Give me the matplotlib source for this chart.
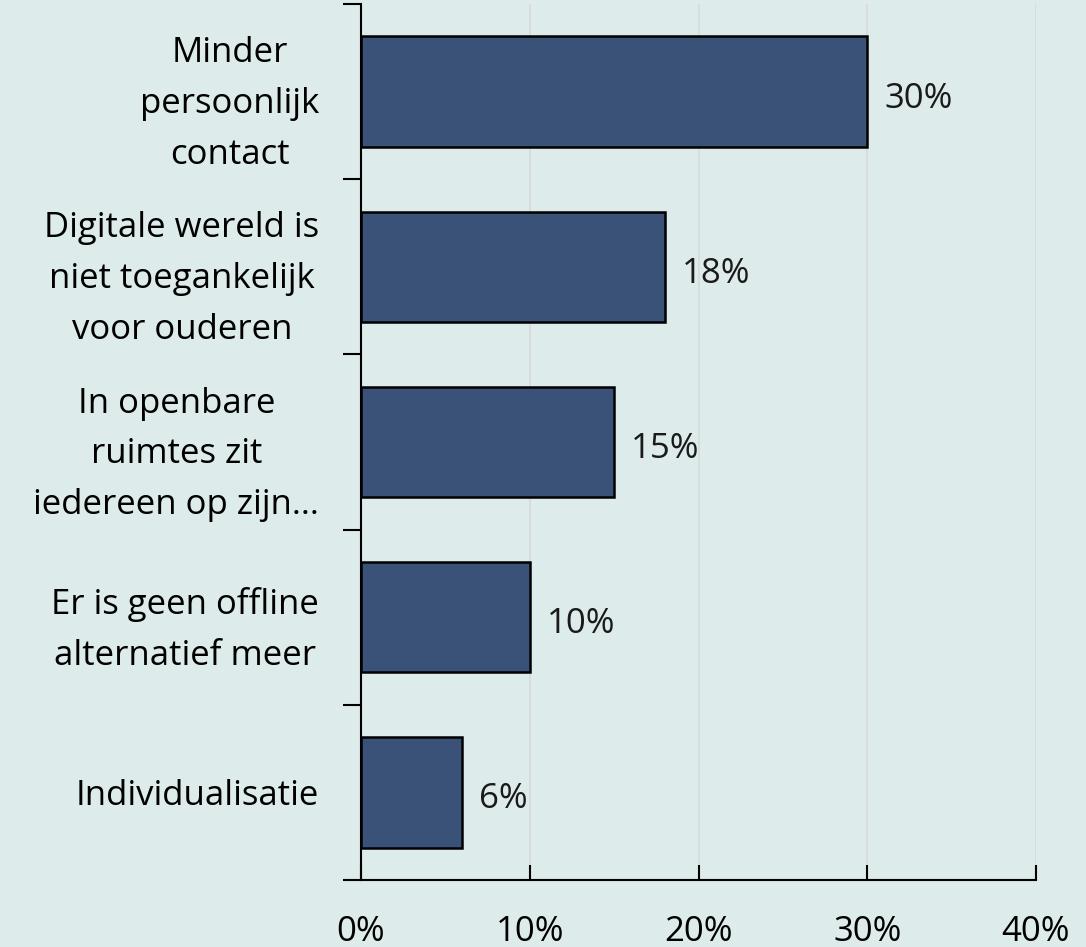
import matplotlib.pyplot as plt
from matplotlib.ticker import FuncFormatter

categories = [
    "Minder\npersoonlijk\ncontact",
    "Digitale wereld is\nniet toegankelijk\nvoor ouderen",
    "In openbare\nruimtes zit\niedereen op zijn...",
    "Er is geen offline\nalternatief meer",
    "Individualisatie",
]
values = [30, 18, 15, 10, 6]
xticks = [0, 10, 20, 30, 40]

bg = "#deebeb"
bar_color = "#3a5277"

plt.rcParams["font.family"] = ["Open Sans", "DejaVu Sans"]

fig = plt.figure(figsize=(10.86, 9.47), dpi=100, facecolor=bg)
ax = fig.add_axes([361 / 1086, 1 - 880 / 947, (1036 - 361) / 1086, (880 - 4) / 947])
ax.set_facecolor(bg)

pos = list(range(len(categories)))
ax.barh(pos, values, height=0.63, color=bar_color, edgecolor="black", linewidth=1.8, zorder=3)
for p, v in zip(pos, values):
    ax.text(v + 1.0, p + 0.04, f"{v}%", va="center", ha="left", fontsize=25, color="#1a1a1a")

ax.set_xlim(0, 40)
ax.set_ylim(len(categories) - 0.5, -0.5)
ax.set_xticks(xticks)
ax.xaxis.set_major_formatter(FuncFormatter(lambda x, _: f"{x:.0f}%"))
ax.grid(axis="x", color="#d9d9d9", linewidth=1.2, zorder=0)

# category boundaries carry the ticks, labels sit between them
ax.set_yticks([p - 0.5 for p in pos] + [len(pos) - 0.5])
ax.set_yticklabels([])
ax.set_yticks(pos, minor=True)
ax.set_yticklabels(categories, minor=True, fontsize=25, multialignment="center", linespacing=1.65)
ax.tick_params(axis="y", which="major", direction="out", length=13, width=1.5)
ax.tick_params(axis="y", which="minor", length=0, pad=30)
ax.tick_params(axis="x", direction="in", length=11, width=1.5, pad=25, labelsize=25)

for side in ("top", "right"):
    ax.spines[side].set_visible(False)
for side in ("left", "bottom"):
    ax.spines[side].set_linewidth(1.5)

fig.savefig("out.png", dpi=100, facecolor=bg)
